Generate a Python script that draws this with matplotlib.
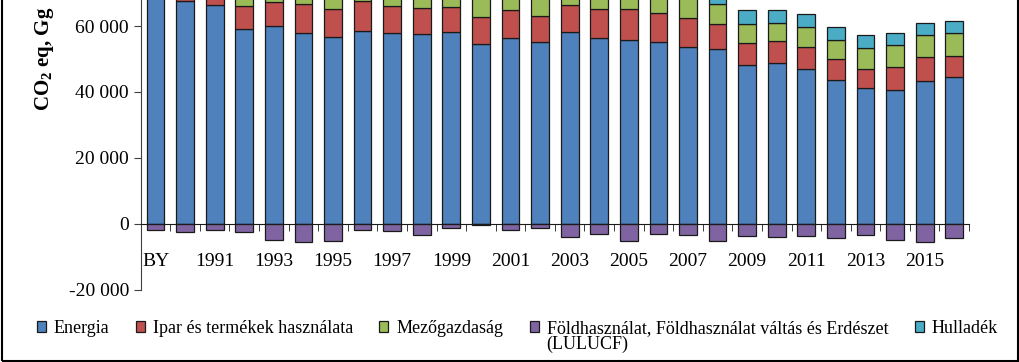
import numpy as np
import matplotlib
matplotlib.use("Agg")
import matplotlib.pyplot as plt
from matplotlib.patches import Rectangle
from matplotlib.ticker import FuncFormatter, FixedLocator

plt.rcParams['font.family'] = ['Liberation Serif', 'DejaVu Serif']
plt.rcParams['mathtext.fontset'] = 'custom'
plt.rcParams['mathtext.rm'] = 'Liberation Serif'
plt.rcParams['mathtext.bf'] = 'Liberation Serif:bold'

# --- donnees (Gg CO2 eq) ---
annees = ['BY'] + [str(a) for a in range(1990, 2017)]

energia = [84000, 67700, 66500, 59200, 60100, 57800, 56700, 58600, 57800, 57600,
           58100, 54600, 56300, 55100, 58100, 56300, 55700, 55100, 53600, 53000,
           48150, 48850, 46950, 43700, 41200, 40700, 43400, 44600]
ipar = [11000, 8500, 6000, 6850, 7250, 8750, 8450, 8950, 8250, 7750,
        7550, 8050, 8450, 7850, 8150, 8750, 9350, 8750, 8750, 7550,
        6650, 6550, 6650, 6250, 5700, 6850, 7250, 6350]
mezogazdasag = [16000, 14000, 10500, 8500, 7800, 7300, 7300, 7000, 7200, 7300,
                7300, 6500, 7000, 6900, 7200, 7100, 7100, 7000, 6500, 6100,
                5800, 5400, 6050, 5800, 6350, 6700, 6650, 6950]
lulucf = [-1800, -2300, -1800, -2300, -4800, -5600, -5300, -1800, -2000, -3300,
          -1200, -300, -1800, -1200, -3900, -3000, -5300, -3000, -3300, -5100,
          -3600, -3900, -3600, -4200, -3300, -4800, -5400, -4200]
hulladek = [4300, 4300, 4300, 4300, 4300, 4300, 4300, 4300, 4300, 4300,
            4300, 4300, 4300, 4300, 4300, 4300, 4300, 4300, 4300, 4300,
            4200, 4200, 3900, 4100, 4000, 3600, 3500, 3550]

noms = ['Energia', 'Ipar és termékek használata', 'Mezőgazdaság',
        'Földhasználat, Földhasználat váltás és Erdészet', 'Hulladék']
suite_lulucf = '(LULUCF)'
couleurs = ['#4F81BD', '#C0504D', '#9BBB59', '#8064A2', '#4BACC6']

# --- figure ---
fig = plt.figure(figsize=(10.2, 3.62), dpi=100)
ax = fig.add_axes([0.138, 0.199, 0.812, 1.276])

x = np.arange(len(annees))
w = 0.6
kw = dict(width=w, edgecolor='#1a1a1a', linewidth=0.9, zorder=3)

e = np.array(energia)
i = np.array(ipar)
m = np.array(mezogazdasag)
h = np.array(hulladek)

b1 = ax.bar(x, e, color=couleurs[0], label=noms[0], **kw)
b2 = ax.bar(x, i, bottom=e, color=couleurs[1], label=noms[1], **kw)
b3 = ax.bar(x, m, bottom=e + i, color=couleurs[2], label=noms[2], **kw)
b4 = ax.bar(x, lulucf, color=couleurs[3], label=noms[3], **kw)
b5 = ax.bar(x, h, bottom=e + i + m, color=couleurs[4], label=noms[4], **kw)

ax.set_xlim(-0.5, len(annees) - 0.5)
ax.set_ylim(-20000, 120000)
# seules les graduations visibles dans l'image
ax.set_yticks(np.arange(-20000, 60001, 20000))
ax.yaxis.set_major_formatter(FuncFormatter(lambda v, p: f"{int(v):,}".replace(',', ' ')))

ax.spines['top'].set_visible(False)
ax.spines['right'].set_visible(False)
ax.spines['left'].set_color('#404040')
ax.spines['bottom'].set_position(('data', 0))
ax.spines['bottom'].set_color('#1a1a1a')
ax.spines['bottom'].set_zorder(4)

# etiquettes une annee sur deux
ax.set_xticks(x)
ax.set_xticklabels([a if k % 2 == 0 else '' for k, a in enumerate(annees)])
ax.xaxis.set_minor_locator(FixedLocator(np.arange(0.5, len(annees), 1.0)))
ax.tick_params(axis='x', which='major', length=0, pad=21, labelsize=14)
ax.tick_params(axis='x', which='minor', length=5, direction='out', color='#1a1a1a')
ax.tick_params(axis='y', length=5, labelsize=14, color='#404040')

ax.set_ylabel(r'CO$_\mathbf{2}$ eq, Gg', fontsize=15, fontweight='bold', labelpad=9)

leg = fig.legend(handles=[b1, b2, b3, b4, b5], loc='center left', bbox_to_anchor=(0.036, 0.093),
                 ncol=5, frameon=False, fontsize=13, handlelength=0.5, handleheight=0.5,
                 handletextpad=0.45, columnspacing=1.45, borderpad=0, borderaxespad=0)

# deuxieme ligne du libelle LULUCF
fig.canvas.draw()
bb = leg.get_texts()[3].get_window_extent()
fig.text(bb.x0 / fig.bbox.width, ((bb.y0 + bb.y1) / 2 - 16) / fig.bbox.height,
         suite_lulucf, fontsize=13, ha='left', va='center')

# cadre autour de la figure
fig.patches.append(Rectangle((0.0015, 0.004), 0.997, 1.5, transform=fig.transFigure,
                             fill=False, edgecolor='black', linewidth=1.5, clip_on=False))

fig.savefig('out.png', dpi=100)
